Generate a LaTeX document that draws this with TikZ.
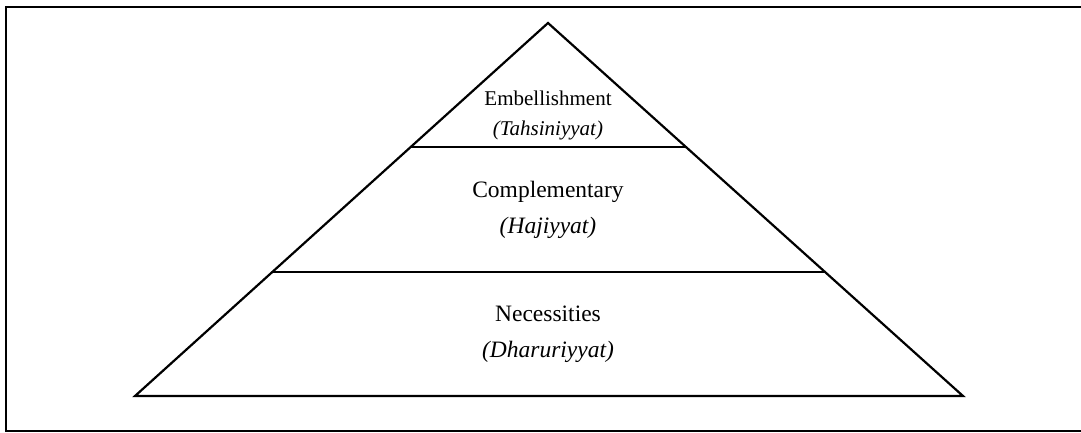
\documentclass[tikz,border=0pt]{standalone}
\usepackage{fontspec}
\setmainfont{Liberation Serif}
\usetikzlibrary{calc}
\tikzset{
    frame-box/.style = {draw=black, line width=2.2pt},
    pyramid-line/.style = {draw=black, line width=2.2pt, line join=miter},
    level-text/.style = {align=center, inner sep=0pt, font=\fontsize{23.5}{36}\selectfont},
    top-text/.style = {align=center, inner sep=0pt, font=\fontsize{21}{30}\selectfont},
}

\begin{document}
\begin{tikzpicture}[x=1pt, y=-1pt]
\useasboundingbox (0,0) rectangle (1081,432);
\clip (0,0) rectangle (1081,432);
\draw[frame-box] (6,7) rectangle (1095,431);

\coordinate (apex) at (548,23);
\coordinate (base-left) at (135,396);
\coordinate (base-right) at (963,396);
\draw[pyramid-line] (apex) -- (base-right) -- (base-left) -- cycle;

% level boundaries at one and two thirds of the height
\coordinate (top-left) at ($(apex)!1/3!(base-left)$);
\coordinate (top-right) at ($(apex)!1/3!(base-right)$);
\coordinate (mid-left) at ($(apex)!2/3!(base-left)$);
\coordinate (mid-right) at ($(apex)!2/3!(base-right)$);
\draw[pyramid-line] (top-left) -- (top-right);
\draw[pyramid-line] (mid-left) -- (mid-right);

\node[top-text] (embellishment) at (548,115) {Embellishment\\\textit{(Tahsiniyyat)}};
\node[level-text] (complementary) at (548,210) {Complementary\\\textit{(Hajiyyat)}};
\node[level-text] (necessities) at (548,334) {Necessities\\\textit{(Dharuriyyat)}};
\end{tikzpicture}
\end{document}
